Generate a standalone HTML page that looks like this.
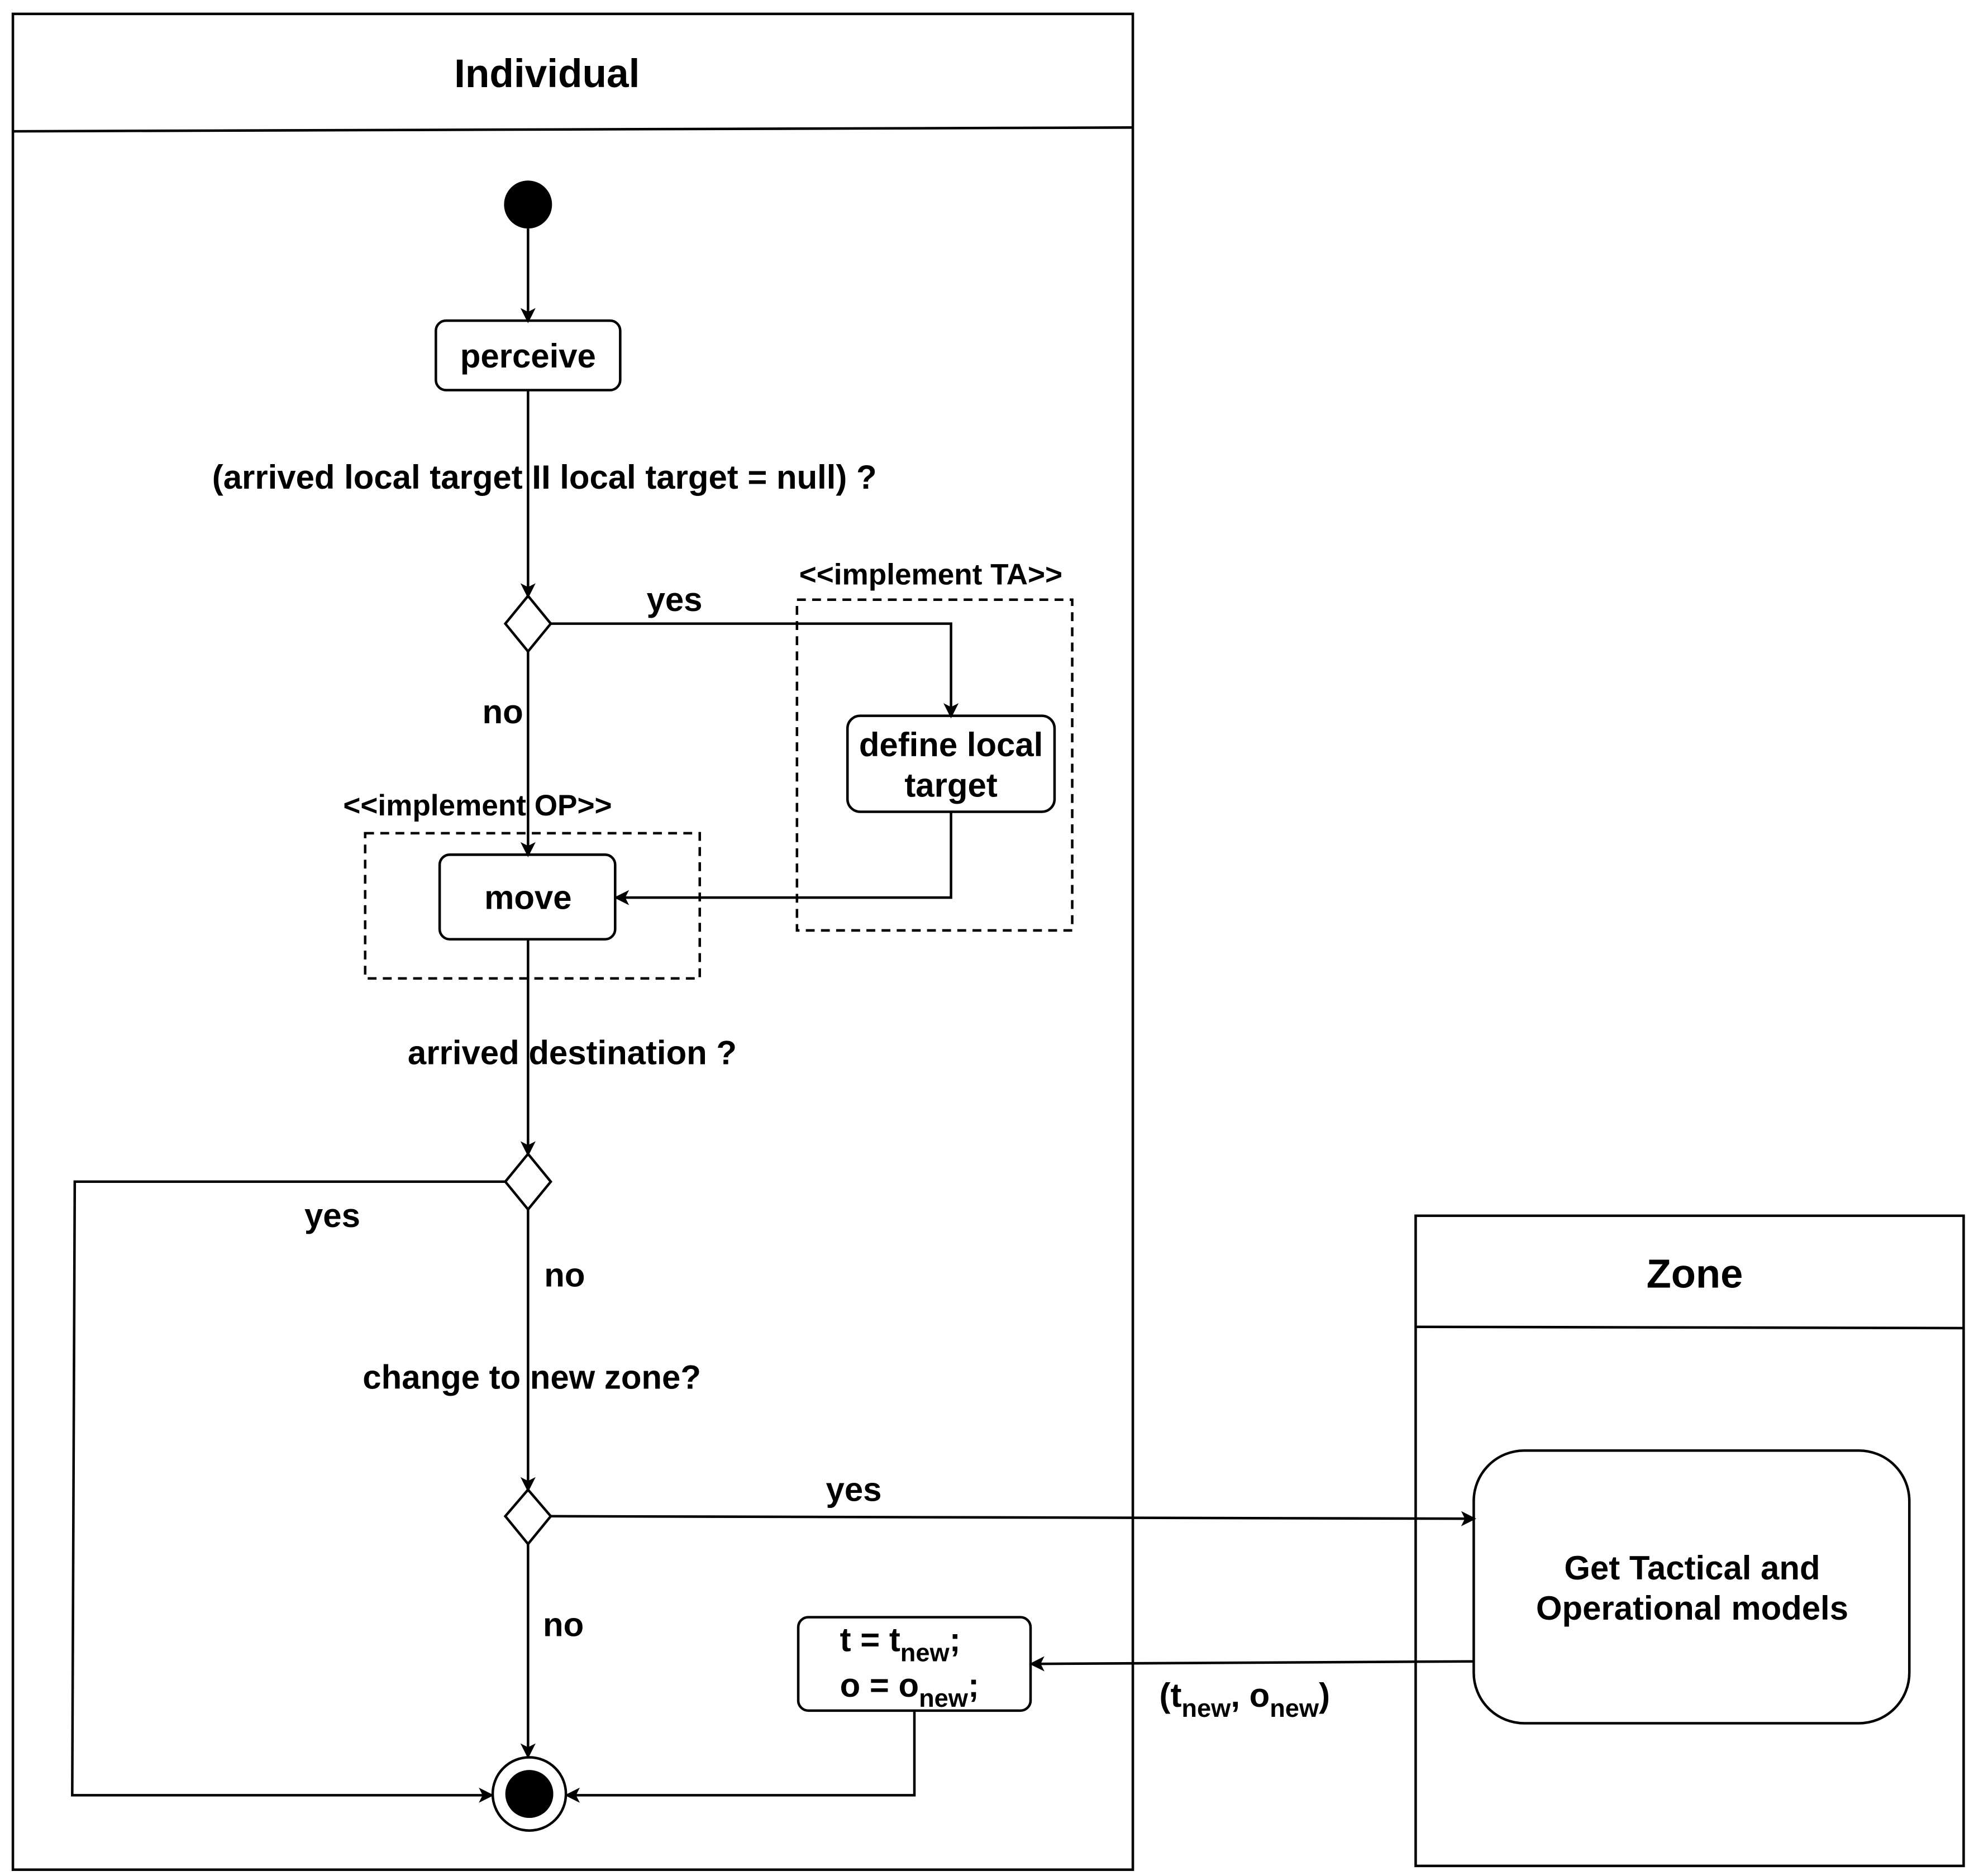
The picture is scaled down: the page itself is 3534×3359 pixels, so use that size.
<!DOCTYPE html>
<html><head><meta charset="utf-8"><style>
html,body{margin:0;padding:0;background:#fff;}
svg{display:block;}
text{font-family:"Liberation Sans",Arial,sans-serif;font-weight:bold;fill:#000;}
</style></head><body>
<svg width="3534" height="3359" viewBox="0 0 1563 1486" xmlns="http://www.w3.org/2000/svg">
<defs>
<marker id="a" markerWidth="12" markerHeight="12" refX="10" refY="6" orient="auto" markerUnits="userSpaceOnUse">
<path d="M0,0 L12,6 L0,12 L3,6 Z" fill="#000"/>
</marker>
</defs>
<g fill="none" stroke="#000" stroke-width="2">
<rect x="10" y="11" width="887" height="1470"/>
<line x1="10" y1="104" x2="897" y2="101"/>
<rect x="1121" y="963" width="434" height="515"/>
<line x1="1121" y1="1051" x2="1555" y2="1052"/>
<rect x="345" y="254" width="146" height="55" rx="8"/>
<rect x="671" y="567" width="164" height="76" rx="10"/>
<rect x="348" y="677" width="139" height="67" rx="8"/>
<rect x="632" y="1281" width="184" height="74" rx="8"/>
<rect x="1167" y="1149" width="345" height="216" rx="40"/>
<rect x="631" y="475" width="218" height="262" stroke-dasharray="7,5"/>
<rect x="289" y="660" width="265" height="115" stroke-dasharray="7,5"/>
<path d="M418,472 L436,494 L418,516 L400,494 Z" fill="#fff"/>
<path d="M418,914 L436,936 L418,958 L400,936 Z" fill="#fff"/>
<path d="M418,1180 L436,1201 L418,1223 L400,1201 Z" fill="#fff"/>
<circle cx="419" cy="1421" r="29"/>
<line x1="418" y1="181" x2="418" y2="254" marker-end="url(#a)"/>
<line x1="418" y1="309" x2="418" y2="472" marker-end="url(#a)"/>
<polyline points="436,494 753,494 753,567" marker-end="url(#a)"/>
<polyline points="753,643 753,711 488,711" marker-end="url(#a)"/>
<line x1="418" y1="516" x2="418" y2="677" marker-end="url(#a)"/>
<line x1="418" y1="744" x2="418" y2="914" marker-end="url(#a)"/>
<polyline points="400,936 59,936 57,1422 389,1422" marker-end="url(#a)"/>
<line x1="418" y1="958" x2="418" y2="1180" marker-end="url(#a)"/>
<line x1="436" y1="1201" x2="1167" y2="1203" marker-end="url(#a)"/>
<line x1="418" y1="1223" x2="418" y2="1391" marker-end="url(#a)"/>
<polyline points="724,1355 724,1422 449,1422" marker-end="url(#a)"/>
<line x1="1167" y1="1316" x2="817" y2="1318" marker-end="url(#a)"/>
</g>
<circle cx="418" cy="162" r="19" fill="#000"/>
<circle cx="419" cy="1421" r="19" fill="#000"/>
<g text-anchor="middle" font-size="26.5">
<text x="433" y="69" font-size="31.5">Individual</text>
<text x="1342" y="1020" font-size="32">Zone</text>
<text x="418" y="291">perceive</text>
<text x="431" y="387">(arrived local target II local target = null) ?</text>
<text x="534" y="484">yes</text>
<text x="737" y="463" font-size="23.5">&lt;&lt;implement TA&gt;&gt;</text>
<text x="753" y="599">define local</text>
<text x="753" y="631">target</text>
<text x="398" y="573">no</text>
<text x="378" y="646" font-size="23.5">&lt;&lt;implement OP&gt;&gt;</text>
<text x="418" y="720">move</text>
<text x="453" y="843">arrived destination ?</text>
<text x="263" y="972">yes</text>
<text x="447" y="1019">no</text>
<text x="421" y="1100">change to new zone?</text>
<text x="676" y="1189">yes</text>
<text x="446" y="1296">no</text>
<text x="1340" y="1251">Get Tactical and</text>
<text x="1340" y="1283">Operational models</text>
</g>
<g font-size="26.5">
<text x="665" y="1308">t = t<tspan font-size="20" dy="8">new</tspan><tspan dy="-8">;</tspan></text>
<text x="665" y="1344">o = o<tspan font-size="20" dy="8">new</tspan><tspan dy="-8">;</tspan></text>
<text x="918" y="1352">(t<tspan font-size="20" dy="8">new</tspan><tspan dy="-8">, o</tspan><tspan font-size="20" dy="8">new</tspan><tspan dy="-8">)</tspan></text>
</g>
</svg>
</body></html>
